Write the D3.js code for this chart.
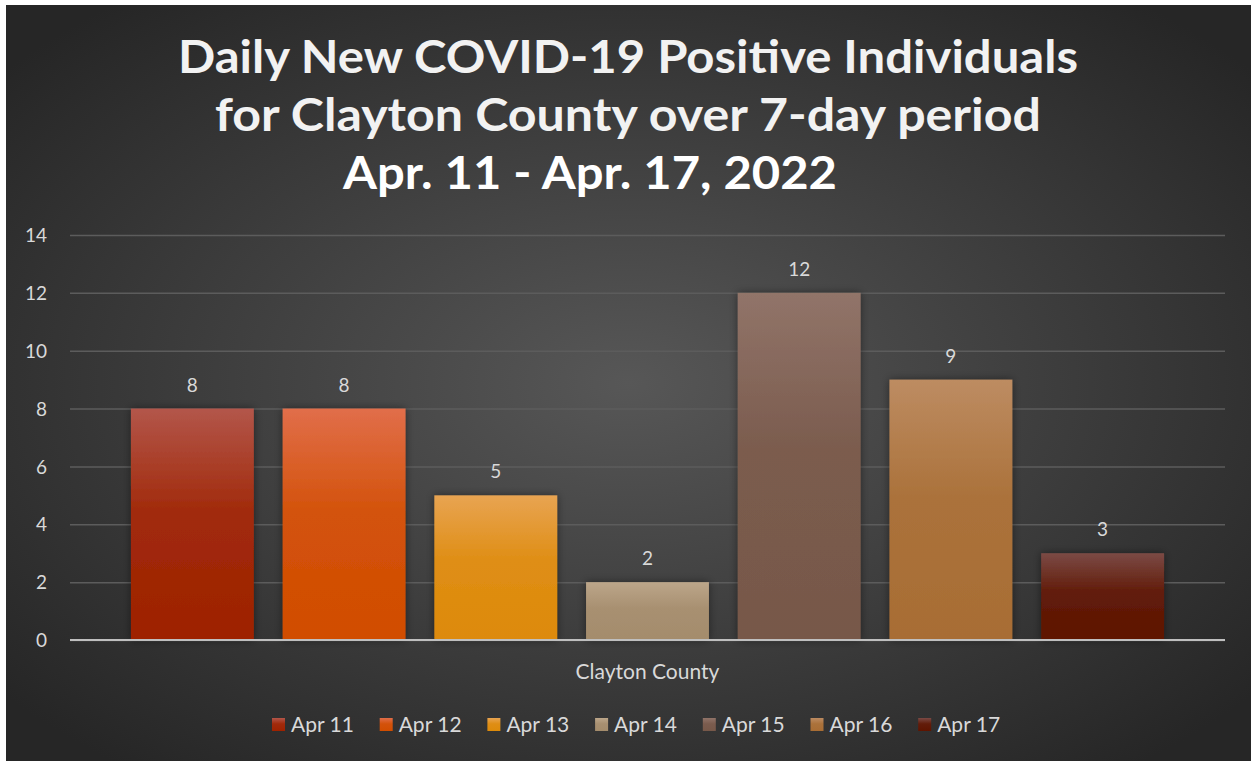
<!DOCTYPE html>
<html>
<head>
<meta charset="utf-8">
<script src="https://cdn.jsdelivr.net/npm/d3@7"></script>
<style>
  body { margin: 0; background: #ffffff; }
  svg { display: block; }
  text { font-family: Lato, "Open Sans", sans-serif; }
</style>
</head>
<body>
<div id="chart"></div>
<script>
// data
var categories = ["Clayton County"];
var seriesNames = ["Apr 11", "Apr 12", "Apr 13", "Apr 14", "Apr 15", "Apr 16", "Apr 17"];
var seriesValues = [8, 8, 5, 2, 12, 9, 3];
var yTicks = [0, 2, 4, 6, 8, 10, 12, 14];
var titleLines = [
  "Daily New COVID-19 Positive Individuals",
  "for Clayton County over 7-day period",
  "Apr. 11 - Apr. 17, 2022"
];
// top / bottom colour of each bar gradient
var colorTop = ["#b3564a", "#e16e4a", "#e8a452", "#bca68a", "#917469", "#bd8c62", "#7b4a45"];
var colorBottom = ["#9e2200", "#d14d00", "#dd8a0a", "#a48c6c", "#775849", "#a86d34", "#5e1400"];

var W = 1251, H = 761;
var margin = { top: 235, right: 26, bottom: 121, left: 70 };

var svg = d3.select("#chart").append("svg")
  .attr("width", W)
  .attr("height", H);

var defs = svg.append("defs");

var bg = defs.append("radialGradient")
  .attr("id", "bg")
  .attr("cx", "50%").attr("cy", "50%").attr("r", "65%");
bg.append("stop").attr("offset", "0%").attr("stop-color", "#575757");
bg.append("stop").attr("offset", "100%").attr("stop-color", "#262626");

seriesNames.forEach(function (s, i) {
  var g = defs.append("linearGradient")
    .attr("id", "bar" + i)
    .attr("x1", 0).attr("y1", 0).attr("x2", 0).attr("y2", 1);
  g.append("stop").attr("offset", "0%").attr("stop-color", colorTop[i]);
  g.append("stop").attr("offset", "45%").attr("stop-color", d3.interpolateRgb(colorTop[i], colorBottom[i])(0.85));
  g.append("stop").attr("offset", "100%").attr("stop-color", colorBottom[i]);
});

var shadow = defs.append("filter").attr("id", "shadow")
  .attr("x", "-20%").attr("y", "-20%").attr("width", "140%").attr("height", "140%");
shadow.append("feDropShadow")
  .attr("dx", 0).attr("dy", 0).attr("stdDeviation", 4)
  .attr("flood-color", "#000").attr("flood-opacity", 0.45);

// background (white strip on top / left like the original screenshot)
svg.append("rect")
  .attr("x", 6).attr("y", 5)
  .attr("width", W - 6).attr("height", H - 5)
  .attr("fill", "url(#bg)");

// title
var titleX = [628, 628, 590];
var titleY = [73, 131, 189];
var titleW = [900, 826, 494];
svg.append("g").selectAll("text")
  .data(titleLines)
  .enter()
  .append("text")
  .attr("x", function (d, i) { return titleX[i]; })
  .attr("y", function (d, i) { return titleY[i]; })
  .attr("text-anchor", "middle")
  .attr("textLength", function (d, i) { return titleW[i]; })
  .attr("lengthAdjust", "spacingAndGlyphs")
  .attr("font-size", 45)
  .attr("font-weight", "bold")
  .attr("fill", function (d, i) { return i == 2 ? "#ffffff" : "#f2f2f2"; })
  .text(function (d) { return d; });

// scales
var y = d3.scaleLinear()
  .domain([0, 14])
  .range([H - margin.bottom, margin.top]);

var x0 = d3.scaleBand()
  .domain(categories)
  .range([margin.left, W - margin.right])
  .paddingInner(0)
  .paddingOuter(0.059);

var x1 = d3.scaleBand()
  .domain(seriesNames)
  .range([0, x0.bandwidth()])
  .paddingInner(0.19)
  .paddingOuter(0);

// gridlines
var grid = svg.append("g")
  .attr("transform", "translate(" + margin.left + ",0)")
  .call(d3.axisLeft(y).tickValues(yTicks).tickSize(-(W - margin.left - margin.right)).tickFormat(""));
grid.select(".domain").remove();
grid.selectAll("line")
  .attr("stroke", "#5c5c5c")
  .attr("stroke-width", 1.5);

// y tick labels
var yAxis = svg.append("g")
  .attr("transform", "translate(" + (margin.left - 23) + ",0)")
  .call(d3.axisLeft(y).tickValues(yTicks).tickSize(0).tickPadding(0));
yAxis.select(".domain").remove();
yAxis.selectAll("text")
  .attr("font-family", "Lato, 'Open Sans', sans-serif")
  .attr("font-size", 19)
  .attr("fill", "#d9d9d9")
  .attr("dy", "0.35em");

// bars
var groups = svg.append("g").selectAll("g")
  .data(categories)
  .enter()
  .append("g")
  .attr("transform", function (d) { return "translate(" + x0(d) + ",0)"; });

groups.selectAll("rect")
  .data(seriesNames.map(function (s, i) { return { name: s, value: seriesValues[i], i: i }; }))
  .enter()
  .append("rect")
  .attr("x", function (d) { return x1(d.name); })
  .attr("y", function (d) { return y(d.value); })
  .attr("width", x1.bandwidth())
  .attr("height", function (d) { return y(0) - y(d.value); })
  .attr("fill", function (d) { return "url(#bar" + d.i + ")"; })
  .attr("filter", "url(#shadow)");

// data labels
groups.selectAll("text.lbl")
  .data(seriesNames.map(function (s, i) { return { name: s, value: seriesValues[i] }; }))
  .enter()
  .append("text")
  .attr("class", "lbl")
  .attr("x", function (d) { return x1(d.name) + x1.bandwidth() / 2; })
  .attr("y", function (d) { return y(d.value) - 17; })
  .attr("text-anchor", "middle")
  .attr("font-size", 19)
  .attr("fill", "#d9d9d9")
  .text(function (d) { return d.value; });

// x axis line
svg.append("line")
  .attr("x1", margin.left).attr("x2", W - margin.right)
  .attr("y1", y(0)).attr("y2", y(0))
  .attr("stroke", "#bfbfbf")
  .attr("stroke-width", 2);

// category label
svg.append("g").selectAll("text")
  .data(categories)
  .enter()
  .append("text")
  .attr("x", function (d) { return x0(d) + x0.bandwidth() / 2; })
  .attr("y", 679)
  .attr("text-anchor", "middle")
  .attr("font-size", 21)
  .attr("fill", "#d9d9d9")
  .text(function (d) { return d; });

// legend
var legendStart = 272, legendStep = 107.7;
var legend = svg.append("g").selectAll("g")
  .data(seriesNames)
  .enter()
  .append("g")
  .attr("transform", function (d, i) { return "translate(" + (legendStart + i * legendStep) + ",718)"; });

legend.append("rect")
  .attr("width", 13).attr("height", 13)
  .attr("fill", function (d, i) { return "url(#bar" + i + ")"; });

legend.append("text")
  .attr("x", 19)
  .attr("y", 14)
  .attr("font-size", 21)
  .attr("fill", "#d9d9d9")
  .text(function (d) { return d; });
</script>
</body>
</html>
